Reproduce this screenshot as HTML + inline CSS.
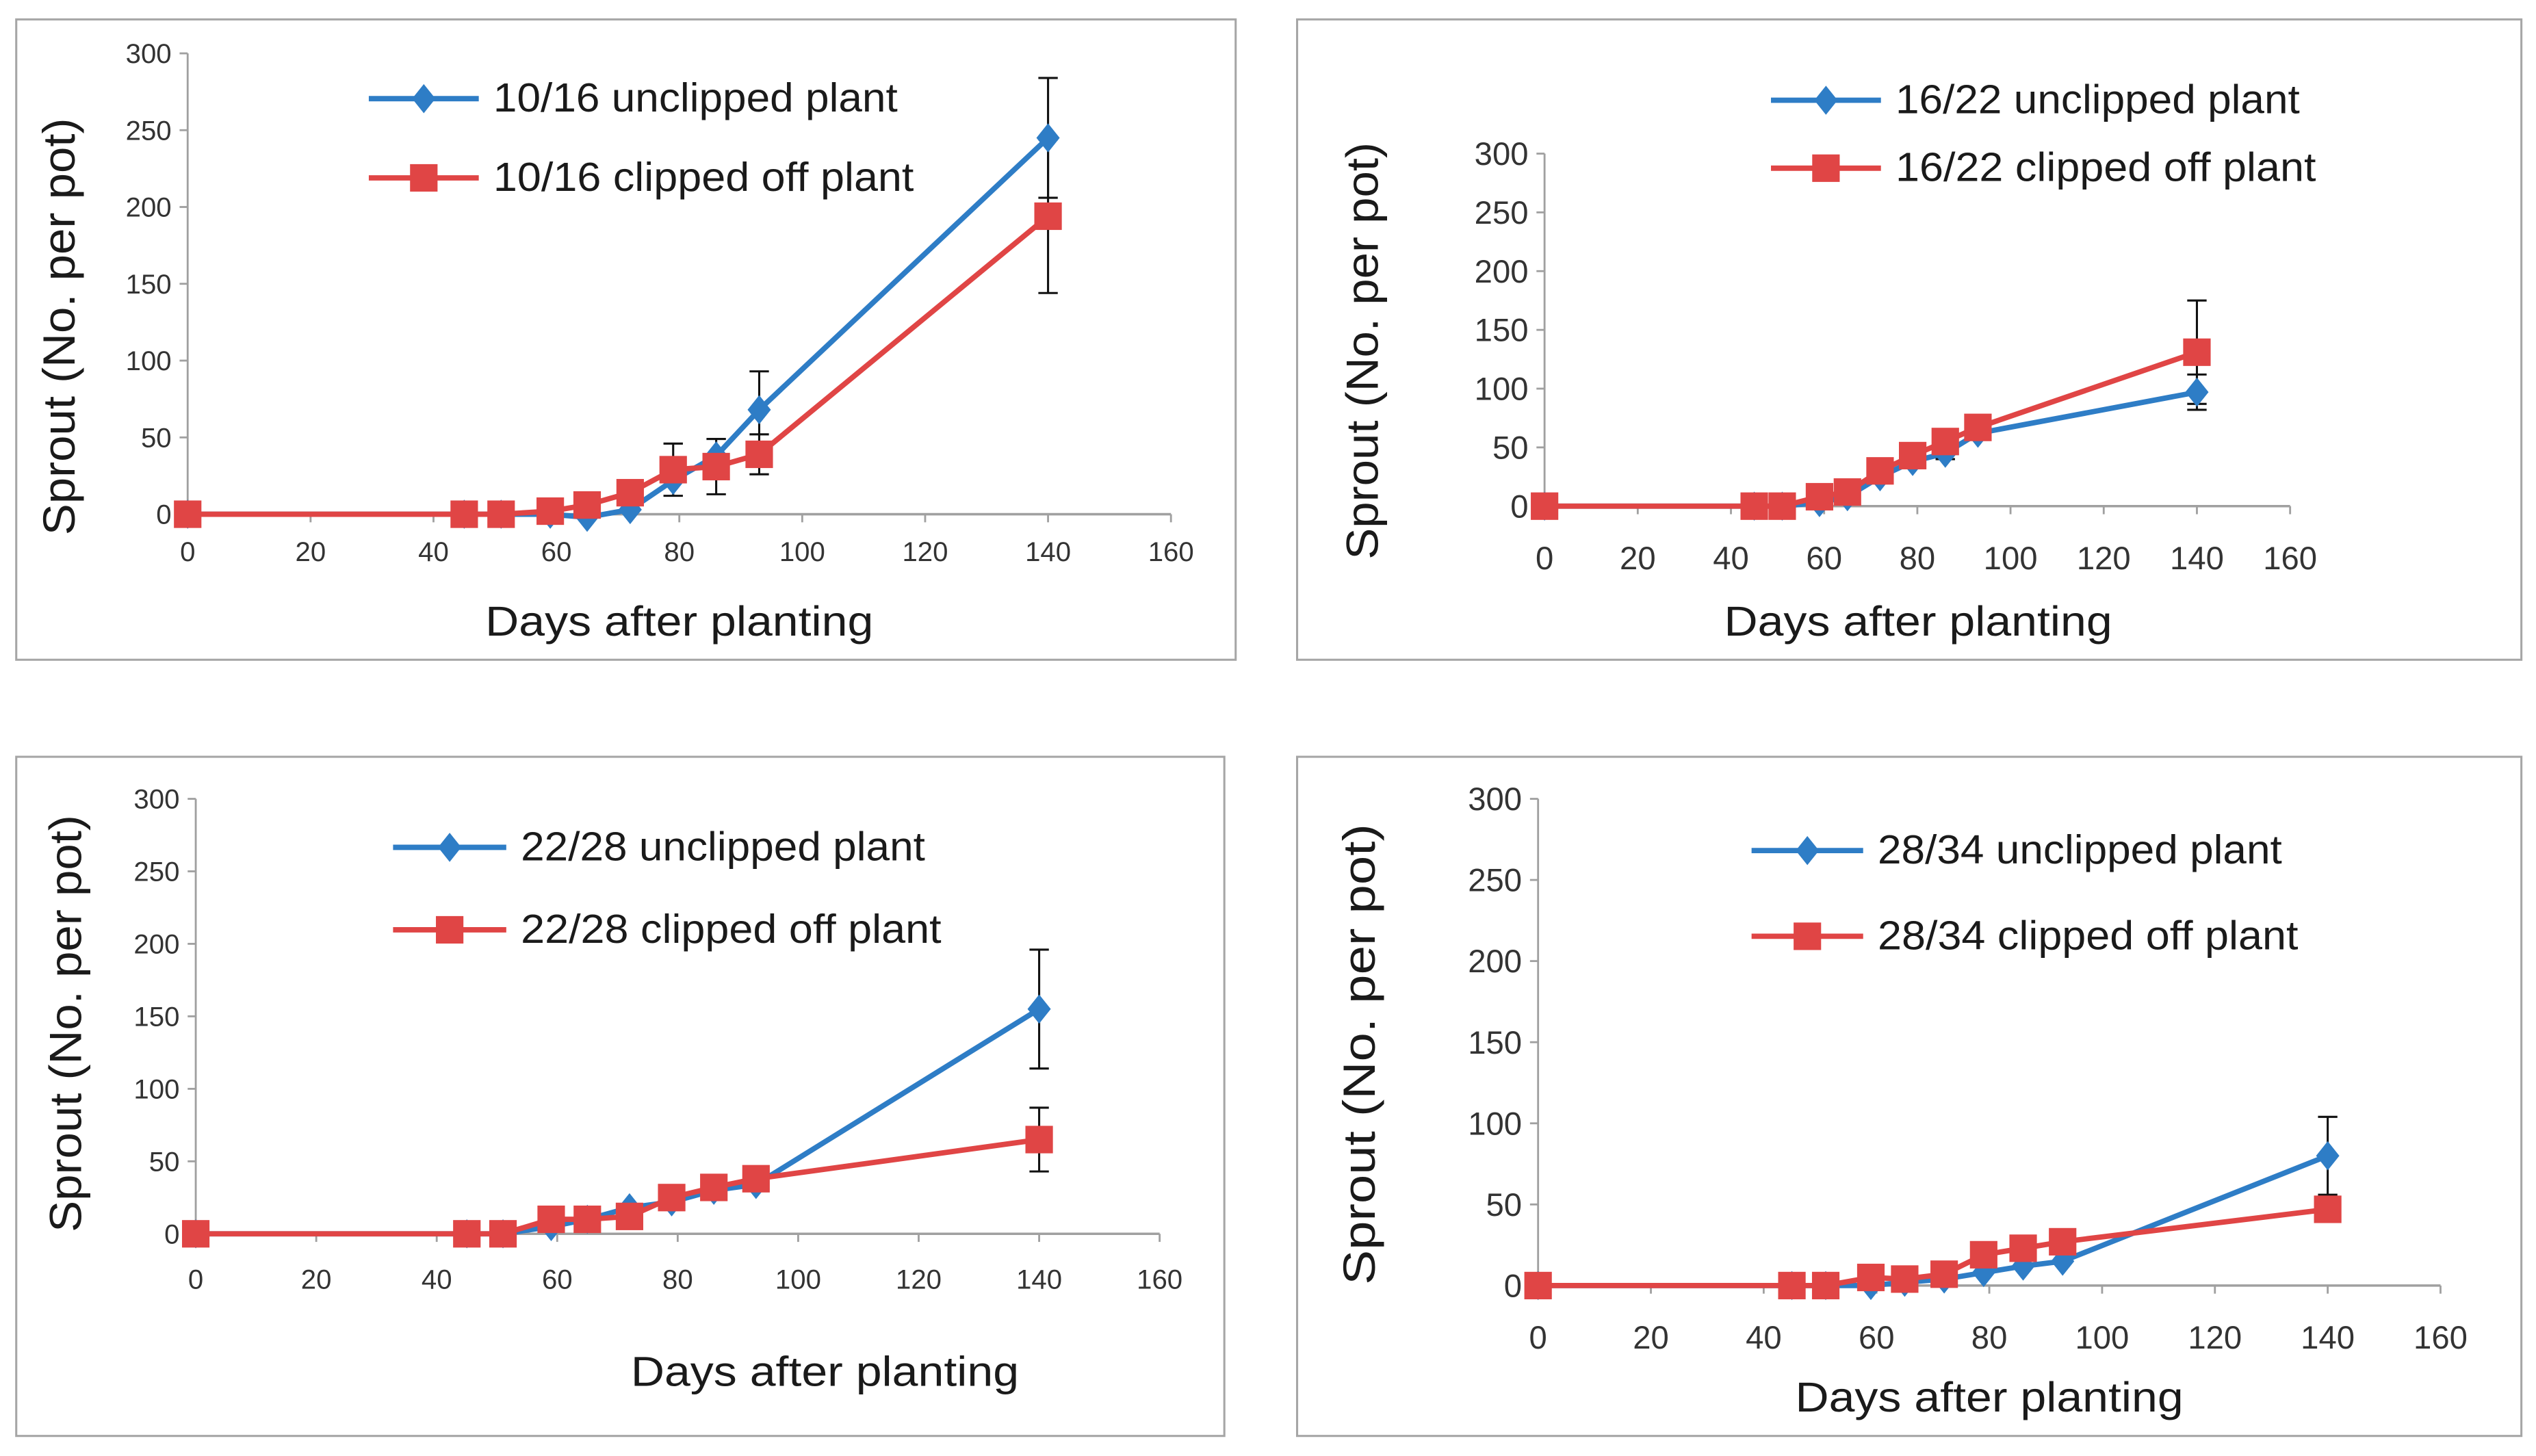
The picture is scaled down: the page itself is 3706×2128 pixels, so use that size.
<!DOCTYPE html>
<html><head><meta charset="utf-8"><style>
html,body{margin:0;padding:0;background:#fff;}
svg{display:block;}
text{font-family:"Liberation Sans",sans-serif;}
</style></head><body>
<svg id="chart" width="3706" height="2128" viewBox="0 0 1568 900.4" xmlns="http://www.w3.org/2000/svg"></svg>
<script>
const days = [0,45,51,59,65,72,79,86,93,140];
const xTicks = [0,20,40,60,80,100,120,140,160];
const yTicks = [0,50,100,150,200,250,300];
const labels1 = ["10/16 unclipped plant","10/16 clipped off plant"];
const labels2 = ["16/22 unclipped plant","16/22 clipped off plant"];
const labels3 = ["22/28 unclipped plant","22/28 clipped off plant"];
const labels4 = ["28/34 unclipped plant","28/34 clipped off plant"];
const unclipped1 = [0,0,0,0,-2,3,22,38,68,245];
const clipped1 = [0,0,0,2,6,14,29,31,39,194];
const unclippedErr1 = [0,0,0,0,0,0,0,0,25,39];
const clippedErr1 = [0,0,0,0,0,0,17,18,13,50];
const unclipped2 = [0,0,0,3,8,25,38,45,62,97];
const clipped2 = [0,0,0,8,12,30,43,55,67,131];
const unclippedErr2 = [0,0,0,0,0,0,0,5,0,15];
const clippedErr2 = [0,0,0,0,0,0,0,0,0,44];
const unclipped3 = [0,0,0,5,10,18,22,30,34,155];
const clipped3 = [0,0,0,10,10,12,25,32,38,65];
const unclippedErr3 = [0,0,0,0,0,0,0,0,0,41];
const clippedErr3 = [0,0,0,0,0,0,0,0,0,22];
const unclipped4 = [0,0,0,0,2,4,8,12,15,80];
const clipped4 = [0,0,0,5,4,7,19,23,27,47];
const unclippedErr4 = [0,0,0,0,0,0,0,0,0,24];
const clippedErr4 = [0,0,0,0,0,0,0,0,0,0];

const NS="http://www.w3.org/2000/svg";
const svg=document.getElementById('chart');
function mk(tag,attrs,parent){const e=document.createElementNS(NS,tag);for(const k in attrs)e.setAttribute(k,attrs[k]);(parent||svg).appendChild(e);return e;}

const panels=[
 {box:[10,12,764,408],ax:116,x160:724,y0:318,y300:33,tickFs:17,titleFs:26,xlY:347,xtX:420,xtY:393,ytX:46,ytY:202,ytW:258,lg:[228,296,61,110],lgFs:25,labels:labels1,u:unclipped1,c:clipped1,ue:unclippedErr1,ce:clippedErr1},
 {box:[802,12,1559,408],ax:955,x160:1416,y0:313,y300:95,tickFs:20,titleFs:26,xlY:352,xtX:1186,xtY:393,ytX:852,ytY:217,ytW:258,lg:[1095,1163,62,104],lgFs:25,labels:labels2,u:unclipped2,c:clipped2,ue:unclippedErr2,ce:clippedErr2},
 {box:[10,468,757,888],ax:121,x160:717,y0:763,y300:494,tickFs:17,titleFs:26,xlY:797,xtX:510,xtY:857,ytX:50,ytY:633,ytW:258,lg:[243,313,524,575],lgFs:25,labels:labels3,u:unclipped3,c:clipped3,ue:unclippedErr3,ce:clippedErr3},
 {box:[802,468,1559,888],ax:951,x160:1509,y0:795,y300:494,tickFs:20,titleFs:26,xlY:834,xtX:1230,xtY:873,ytX:850,ytY:652,ytW:285,lg:[1083,1152,526,579],lgFs:25,labels:labels4,u:unclipped4,c:clipped4,ue:unclippedErr4,ce:clippedErr4}
];
const BLUE="#2E7DC6", RED="#E04545";
function diamond(g,x,y,name){const s=9;const p=mk('polygon',{points:`${x},${y-s} ${x+s*0.8},${y} ${x},${y+s} ${x-s*0.8},${y}`,fill:BLUE},g);

}
function square(g,x,y,name){const s=8.5;const r=mk('rect',{x:x-s,y:y-s,width:2*s,height:2*s,fill:RED},g);

}

panels.forEach((P,pi)=>{
 const g=mk('g',{});
 
 
 const [bx1,by1,bx2,by2]=P.box;
 mk('rect',{x:bx1,y:by1,width:bx2-bx1,height:by2-by1,fill:'#fff',stroke:'#a6a6a6','stroke-width':1.3},g);
 const X=v=>P.ax+(P.x160-P.ax)*v/160;
 const Y=v=>P.y0+(P.y300-P.y0)*v/300;
 const ya=mk('line',{x1:P.ax,y1:Y(300),x2:P.ax,y2:P.y0,stroke:'#a0a0a0','stroke-width':1.2},g);
 
 
 const xa=mk('line',{x1:P.ax,y1:P.y0,x2:X(160),y2:P.y0,stroke:'#a0a0a0','stroke-width':1.5},g);
 
 
 yTicks.forEach(t=>{
  mk('line',{x1:P.ax-5,y1:Y(t),x2:P.ax,y2:Y(t),stroke:'#a0a0a0','stroke-width':1.2},g);
  const tx=mk('text',{x:P.ax-10,y:Y(t)+P.tickFs*0.35,'text-anchor':'end','font-size':P.tickFs,fill:'#333'},g);
  tx.textContent=t;
  
  
 });
 xTicks.forEach(t=>{
  mk('line',{x1:X(t),y1:P.y0,x2:X(t),y2:P.y0+5,stroke:'#a0a0a0','stroke-width':1.2},g);
  const tx=mk('text',{x:X(t),y:P.xlY,'text-anchor':'middle','font-size':P.tickFs,fill:'#333'},g);
  tx.textContent=t;
  
  
 });
 const xt=mk('text',{x:P.xtX,y:P.xtY,'text-anchor':'middle','font-size':P.titleFs,fill:'#1a1a1a',textLength:240,lengthAdjust:'spacingAndGlyphs'},g);
 xt.textContent='Days after planting';
 
 
 const yt=mk('text',{x:0,y:0,'text-anchor':'middle','font-size':28,fill:'#1a1a1a',textLength:P.ytW,lengthAdjust:'spacingAndGlyphs',transform:`translate(${P.ytX},${P.ytY}) rotate(-90)`},g);
 yt.textContent='Sprout (No. per pot)';
 
 
 const series=[{v:P.u,e:P.ue,col:BLUE,m:diamond,n:'unclipped'},{v:P.c,e:P.ce,col:RED,m:square,n:'clipped'}];
 series.forEach(S=>{
  const pl=mk('polyline',{points:days.map((d,i)=>X(d)+','+Y(S.v[i])).join(' '),fill:'none',stroke:S.col,'stroke-width':3.3},g);
  
  
 });
 series.forEach(S=>{
  days.forEach((d,i)=>{
   if(S.e[i]>0){
    const x=X(d),y1=Y(S.v[i]+S.e[i]),y2=Y(S.v[i]-S.e[i]);
    const eb=mk('path',{d:`M${x},${y1}V${y2}M${x-6},${y1}H${x+6}M${x-6},${y2}H${x+6}`,stroke:'#111','stroke-width':1.3,fill:'none'},g);
    
    
   }
  });
 });
 series.forEach(S=>{days.forEach((d,i)=>S.m(g,X(d),Y(S.v[i]),S.n+'-point'));});
 const [lx1,lx2,ly1,ly2]=P.lg;
 [[ly1,BLUE,diamond,P.labels[0],'legend-unclipped',250],[ly2,RED,square,P.labels[1],'legend-clipped',260]].forEach(L=>{
  const lg=mk('g',{},g);
  
  
  mk('line',{x1:lx1,y1:L[0],x2:lx2,y2:L[0],stroke:L[1],'stroke-width':3.3},lg);
  L[2](lg,(lx1+lx2)/2,L[0],'legend-marker');
  const t=mk('text',{x:lx2+9,y:L[0]+8,'font-size':P.lgFs,fill:'#1a1a1a',textLength:L[5],lengthAdjust:'spacingAndGlyphs'},lg);
  t.textContent=L[3];
 });
});
</script>
</body></html>
